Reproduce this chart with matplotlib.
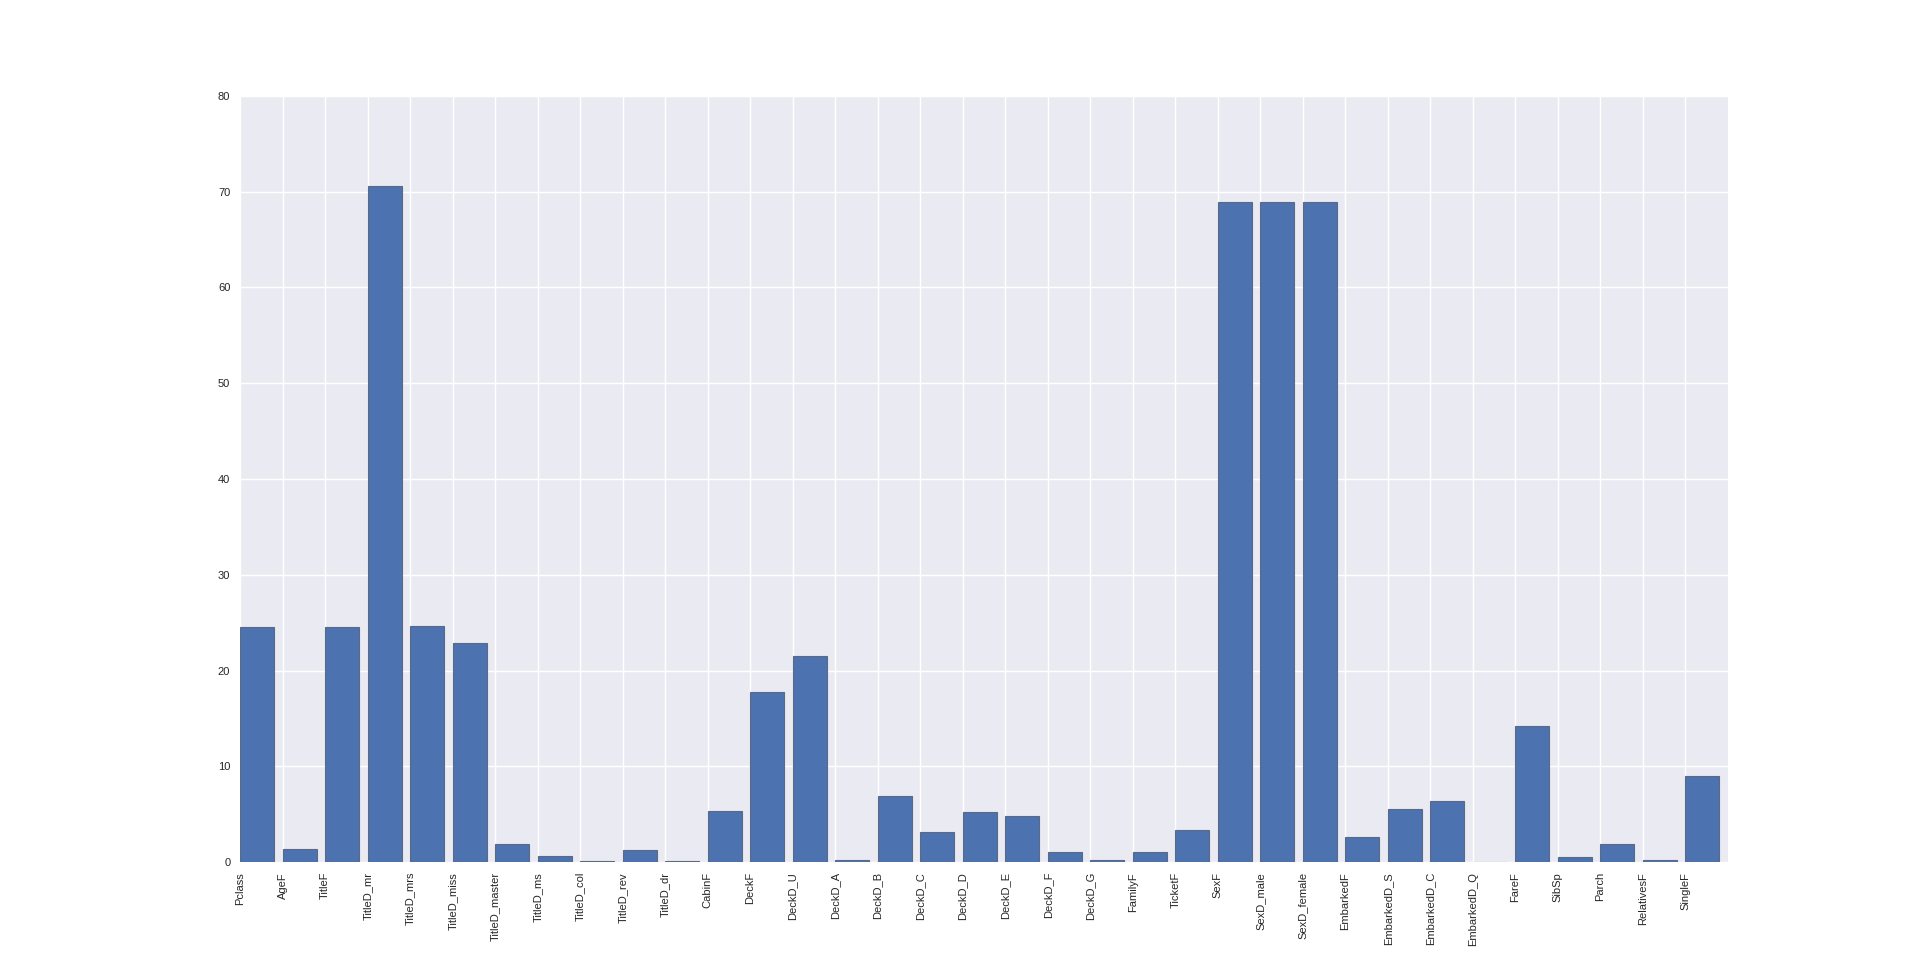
import numpy as np
import matplotlib
matplotlib.use('Agg')
import matplotlib.pyplot as plt

# === Дані ===
features = ['Pclass', 'AgeF', 'TitleF', 'TitleD_mr', 'TitleD_mrs', 'TitleD_miss',
            'TitleD_master', 'TitleD_ms', 'TitleD_col', 'TitleD_rev', 'TitleD_dr',
            'CabinF', 'DeckF', 'DeckD_U', 'DeckD_A', 'DeckD_B', 'DeckD_C', 'DeckD_D',
            'DeckD_E', 'DeckD_F', 'DeckD_G', 'FamilyF', 'TicketF', 'SexF',
            'SexD_male', 'SexD_female', 'EmbarkedF', 'EmbarkedD_S', 'EmbarkedD_C',
            'EmbarkedD_Q', 'FareF', 'SibSp', 'Parch', 'RelativesF', 'SingleF']
scores = [24.6, 1.36, 24.6, 70.6, 24.7, 22.9,
          1.9, 0.66, 0.1, 1.28, 0.1,
          5.36, 17.8, 21.5, 0.28, 6.9, 3.17, 5.19,
          4.87, 1.11, 0.2, 1.11, 3.38, 68.9,
          68.9, 68.9, 2.6, 5.53, 6.4,
          0.05, 14.2, 0.52, 1.88, 0.2, 9.05]

# === Стиль (старий seaborn darkgrid) ===
plt.rcParams['font.family'] = ['Liberation Sans', 'DejaVu Sans']
plt.rcParams['font.size'] = 8

fig = plt.figure(figsize=(19.2, 9.58), dpi=100)
fig.subplots_adjust(left=0.125, right=0.9, bottom=0.1, top=0.9)
ax = fig.add_subplot(111)
ax.set_facecolor('#EAEAF2')
for s in ax.spines.values():
    s.set_visible(False)
ax.grid(True, color='white', linewidth=1.0)
ax.set_axisbelow(True)

x = np.arange(len(features))
ax.bar(x, scores, width=0.8, align='edge', color='#4C72B0',
       edgecolor='#5a6a86', linewidth=0.8)

ax.set_xticks(x)
ax.set_xticklabels(features, rotation=90)
ax.set_xlim(0, len(features))
ax.set_ylim(0, 80)
ax.tick_params(axis='both', length=0, pad=7, colors='#262626', labelsize=8)

fig.savefig('out.png', dpi=100)
